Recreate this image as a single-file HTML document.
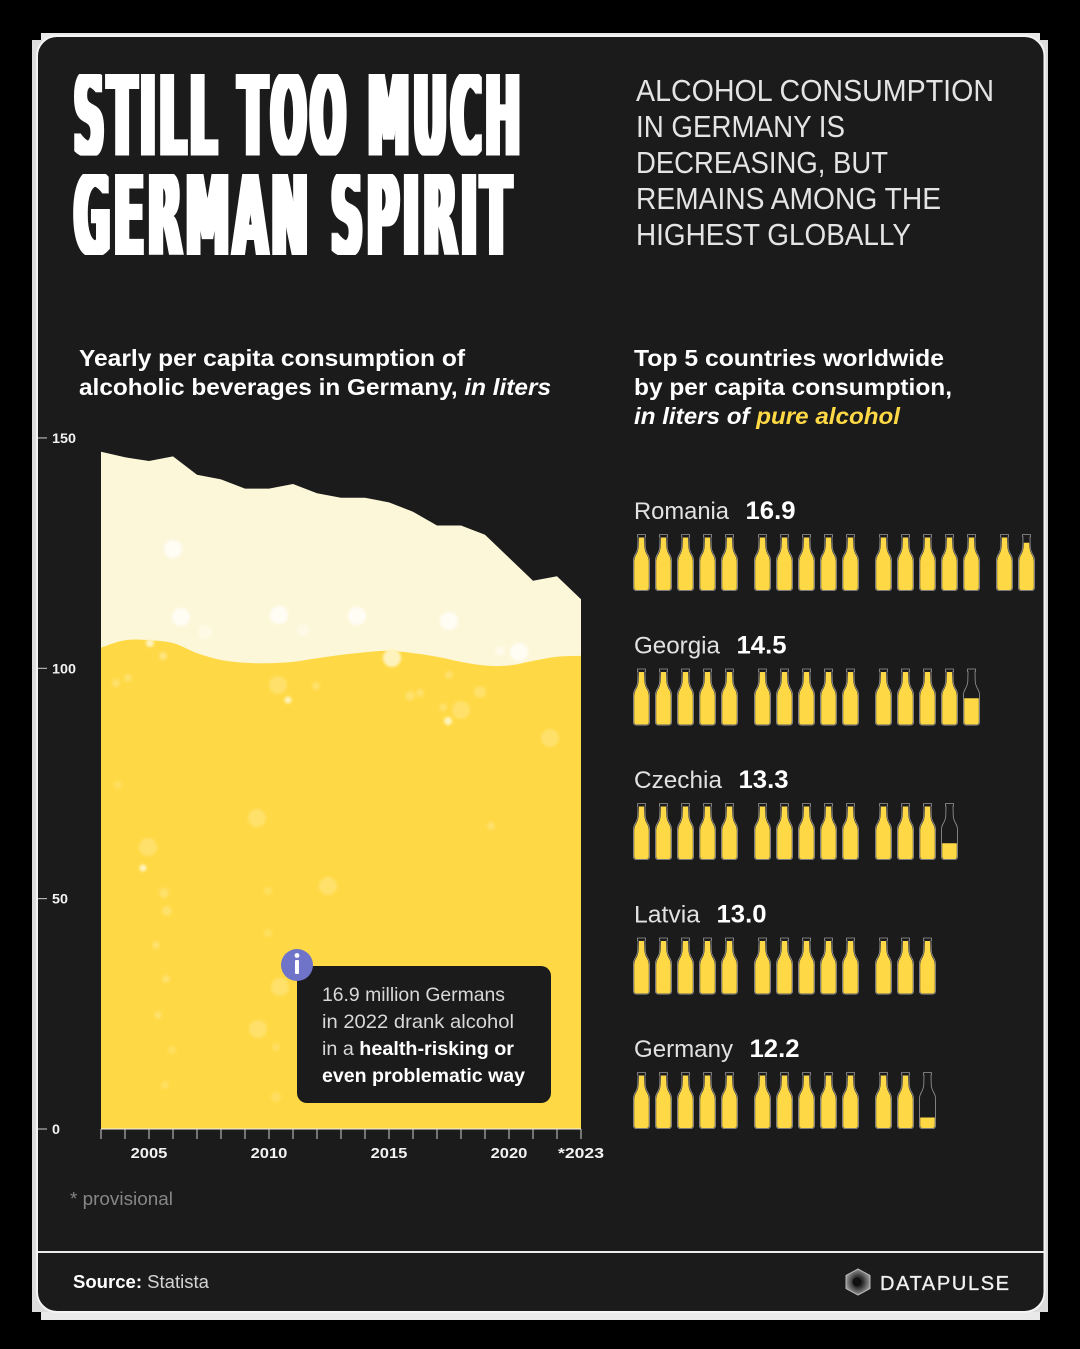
<!DOCTYPE html>
<html lang="en">
<head>
<meta charset="utf-8">
<title>Still Too Much German Spirit</title>
<style>
html,body{margin:0;padding:0;background:#000;}
svg{display:block;}
text{font-family:"Liberation Sans",sans-serif;}
.title{font-family:"DejaVu Sans","Liberation Sans",sans-serif;font-size:113px;font-weight:700;fill:#fff;letter-spacing:10px;filter:url(#fatten);}
.sub{font-size:31px;fill:#e4e4e4;}
.head{font-size:23px;font-weight:700;fill:#fff;}
.tip{font-size:19.5px;fill:#d8d8d8;}
.b{font-weight:700;fill:#fff;}
</style>
</head>
<body>
<svg id="root" xmlns="http://www.w3.org/2000/svg" width="1080" height="1349" viewBox="0 0 1080 1349">
  <defs>
    <filter id="soft" x="-50%" y="-50%" width="200%" height="200%"><feGaussianBlur stdDeviation="1.2"/></filter>
    <filter id="fatten" x="-5%" y="-10%" width="110%" height="120%"><feMorphology operator="dilate" radius="3.2 0"/></filter>
    <clipPath id="chart-clip"><rect x="101" y="430" width="480" height="699"/></clipPath>
    <clipPath id="title-clip-1"><rect x="60" y="74" width="480" height="81.6"/></clipPath>
    <clipPath id="title-clip-2"><rect x="60" y="174" width="480" height="81"/></clipPath>
    <radialGradient id="logo-fill" cx="50%" cy="50%" r="55%"><stop offset="35%" stop-color="#2a2a2a"/><stop offset="75%" stop-color="#777"/><stop offset="100%" stop-color="#aaa"/></radialGradient>
  </defs>
  <rect x="0" y="0" width="1080" height="1349" fill="#000"/>
  <rect x="41" y="33" width="999" height="1287" fill="#e9e9e9"/>
  <rect x="32" y="40" width="1016" height="1272" fill="#dcdcdc"/>
  <rect x="37" y="36" width="1007.5" height="1276" rx="20" fill="#1b1b1b" stroke="#f4f4f4" stroke-width="2"/>

  <g clip-path="url(#title-clip-1)">
    <text class="title" x="74" y="155.5" textLength="450" lengthAdjust="spacingAndGlyphs">STILL TOO MUCH</text>
  </g>
  <g clip-path="url(#title-clip-2)">
    <text class="title" x="74" y="255" textLength="441" lengthAdjust="spacingAndGlyphs">GERMAN SPIRIT</text>
  </g>

  <g>
    <text class="sub" x="636" y="101" textLength="358" lengthAdjust="spacingAndGlyphs">ALCOHOL CONSUMPTION</text>
    <text class="sub" x="636" y="137" textLength="209" lengthAdjust="spacingAndGlyphs">IN GERMANY IS</text>
    <text class="sub" x="636" y="173" textLength="252" lengthAdjust="spacingAndGlyphs">DECREASING, BUT</text>
    <text class="sub" x="636" y="209" textLength="305" lengthAdjust="spacingAndGlyphs">REMAINS AMONG THE</text>
    <text class="sub" x="636" y="245" textLength="275" lengthAdjust="spacingAndGlyphs">HIGHEST GLOBALLY</text>
  </g>

  <g>
    <text class="head" x="79" y="366" textLength="386" lengthAdjust="spacingAndGlyphs">Yearly per capita consumption of</text>
    <text class="head" x="79" y="395" textLength="472" lengthAdjust="spacingAndGlyphs">alcoholic beverages in Germany, <tspan font-style="italic">in liters</tspan></text>
  </g>
  <g>
    <text class="head" x="634" y="366" textLength="310" lengthAdjust="spacingAndGlyphs">Top 5 countries worldwide</text>
    <text class="head" x="634" y="395" textLength="318" lengthAdjust="spacingAndGlyphs">by per capita consumption,</text>
    <text class="head" x="634" y="424" textLength="266" lengthAdjust="spacingAndGlyphs" font-style="italic">in liters of <tspan fill="#ffd945">pure alcohol</tspan></text>
  </g>

  <g id="area-chart"></g>

  <g id="bubbles" clip-path="url(#chart-clip)" filter="url(#soft)">
    <circle cx="173" cy="549" r="9" fill="#fff" opacity=".7"/>
    <circle cx="181" cy="617" r="9" fill="#fff" opacity=".7"/>
    <circle cx="279" cy="615" r="9" fill="#fff" opacity=".7"/>
    <circle cx="357" cy="616" r="9" fill="#fff" opacity=".7"/>
    <circle cx="449" cy="621" r="9" fill="#fff" opacity=".7"/>
    <circle cx="519" cy="652" r="9" fill="#fff" opacity=".7"/>
    <circle cx="392" cy="658" r="9" fill="#fff3bd"/>
    <circle cx="205" cy="632" r="7" fill="#fff" opacity=".3"/>
    <circle cx="303" cy="630" r="6" fill="#fff" opacity=".3"/>
    <circle cx="500" cy="651" r="5" fill="#fff" opacity=".4"/>
    <circle cx="150" cy="643" r="4" fill="#fff3bd"/>
    <circle cx="116" cy="683" r="4" fill="#fff" opacity=".2"/>
    <circle cx="128" cy="678" r="4" fill="#fff" opacity=".2"/>
    <circle cx="163" cy="656" r="4" fill="#fff" opacity=".3"/>
    <circle cx="278" cy="685" r="9" fill="#fff" opacity=".2"/>
    <circle cx="288" cy="700" r="3.5" fill="#fff3bd"/>
    <circle cx="316" cy="686" r="4" fill="#fff" opacity=".2"/>
    <circle cx="448" cy="721" r="4" fill="#fff3bd"/>
    <circle cx="461" cy="710" r="9" fill="#fff" opacity=".2"/>
    <circle cx="550" cy="738" r="9" fill="#fff" opacity=".2"/>
    <circle cx="148" cy="847" r="9" fill="#fff" opacity=".2"/>
    <circle cx="143" cy="868" r="3.5" fill="#fff3bd"/>
    <circle cx="257" cy="818" r="9" fill="#fff" opacity=".2"/>
    <circle cx="328" cy="886" r="9" fill="#fff" opacity=".2"/>
    <circle cx="268" cy="891" r="4" fill="#fff" opacity=".15"/>
    <circle cx="164" cy="893" r="5" fill="#fff" opacity=".2"/>
    <circle cx="167" cy="911" r="5" fill="#fff" opacity=".2"/>
    <circle cx="156" cy="945" r="4" fill="#fff" opacity=".2"/>
    <circle cx="268" cy="933" r="4" fill="#fff" opacity=".15"/>
    <circle cx="166" cy="979" r="4" fill="#fff" opacity=".2"/>
    <circle cx="280" cy="987" r="9" fill="#fff" opacity=".2"/>
    <circle cx="258" cy="1029" r="9" fill="#fff" opacity=".2"/>
    <circle cx="158" cy="1015" r="4" fill="#fff" opacity=".2"/>
    <circle cx="172" cy="1050" r="4" fill="#fff" opacity=".15"/>
    <circle cx="165" cy="1085" r="4" fill="#fff" opacity=".15"/>
    <circle cx="276" cy="1047" r="4" fill="#fff" opacity=".15"/>
    <circle cx="276" cy="1097" r="5" fill="#fff" opacity=".15"/>
    <circle cx="491" cy="826" r="4" fill="#fff" opacity=".2"/>
    <circle cx="118" cy="785" r="4" fill="#fff" opacity=".15"/>
    <circle cx="410" cy="696" r="5" fill="#fff" opacity=".2"/>
    <circle cx="420" cy="693" r="4" fill="#fff" opacity=".2"/>
    <circle cx="480" cy="692" r="6" fill="#fff" opacity=".2"/>
    <circle cx="443" cy="707" r="4" fill="#fff" opacity=".2"/>
    <circle cx="449" cy="675" r="4" fill="#fff" opacity=".2"/>
  </g>

  <g>
    <rect x="297" y="966" width="254" height="137" rx="10" fill="#1b1b1b"/>
    <circle cx="297" cy="965" r="16" fill="#6f74c9"/>
    <rect x="295" y="960" width="4" height="14" rx="1" fill="#fff"/>
    <circle cx="297" cy="955.5" r="2.4" fill="#fff"/>
    <text class="tip" x="322" y="1001" textLength="183" lengthAdjust="spacingAndGlyphs">16.9 million Germans</text>
    <text class="tip" x="322" y="1028" textLength="192" lengthAdjust="spacingAndGlyphs">in 2022 drank alcohol</text>
    <text class="tip" x="322" y="1055" textLength="192" lengthAdjust="spacingAndGlyphs">in a <tspan class="b">health-risking or</tspan></text>
    <text class="tip b" x="322" y="1082" textLength="203" lengthAdjust="spacingAndGlyphs">even problematic way</text>
  </g>

  <g id="bottle-chart"></g>

  <text x="70" y="1205" font-size="18" fill="#868686" textLength="103" lengthAdjust="spacingAndGlyphs">* provisional</text>
  <rect x="38" y="1251" width="1006" height="2" fill="#ececec"/>
  <text x="73" y="1288" font-size="18" fill="#d4d4d4" textLength="136" lengthAdjust="spacingAndGlyphs"><tspan class="b">Source:</tspan> Statista</text>

  <g>
    <polygon points="858,1269 870,1275.5 870,1288.5 858,1295 846,1288.5 846,1275.5" fill="url(#logo-fill)" stroke="#b5b5b5" stroke-width="1" stroke-linejoin="round"/>
    <circle cx="857" cy="1282" r="4.5" fill="#111"/>
    <text x="880" y="1290" font-size="20" font-weight="400" fill="#f0f0f0" stroke="#f0f0f0" stroke-width=".35" textLength="129" lengthAdjust="spacing">DATAPULSE</text>
  </g>
</svg>

<script>
var years = [2003,2004,2005,2006,2007,2008,2009,2010,2011,2012,2013,2014,2015,2016,2017,2018,2019,2020,2021,2022,2023];
var totalLiters = [147,145.8,145,146,142,141,139,139,140,138,137,137,136,134,131,131,129,124,119,120,115];
var beerLevel = [104.5,106.1,106.1,105.5,103.3,101.8,101.2,101.1,101.4,102.2,102.9,103.5,103.8,103.3,102.5,101.4,100.6,100.6,101.6,102.5,102.7];
var yTickValues = [150,100,50,0];
var xLabelYears = [2005,2010,2015,2020,2023];
var xLabelText = ['2005','2010','2015','2020','*2023'];

var countries = ['Romania','Georgia','Czechia','Latvia','Germany'];
var litersPure = [16.9,14.5,13.3,13.0,12.2];

var NS = 'http://www.w3.org/2000/svg';
function make(parent, tag, attrs, text) {
  var el = document.createElementNS(NS, tag);
  for (var k in attrs) el.setAttribute(k, attrs[k]);
  if (text !== undefined) el.textContent = text;
  parent.appendChild(el);
  return el;
}
function xScale(year) { return 101 + (year - 2003) * 24; }
function yScale(v) { return 1129 - v * 4.607; }

var chart = document.getElementById('area-chart');
var baseY = yScale(0);

var foamPath = 'M' + xScale(years[0]) + ' ' + baseY;
years.forEach(function (yr, i) { foamPath += ' L' + xScale(yr) + ' ' + yScale(totalLiters[i]).toFixed(1); });
foamPath += ' L' + xScale(years[years.length - 1]) + ' ' + baseY + ' Z';
var foam = make(chart, 'path', { d: foamPath, fill: '#fdf7da' });



var pts = years.map(function (yr, i) { return [xScale(yr), yScale(beerLevel[i])]; });
var wavePath = 'M' + pts[0][0] + ' ' + baseY + ' L' + pts[0][0] + ' ' + pts[0][1].toFixed(1);
for (var i = 0; i < pts.length - 1; i++) {
  var p0 = pts[Math.max(i - 1, 0)], p1 = pts[i], p2 = pts[i + 1], p3 = pts[Math.min(i + 2, pts.length - 1)];
  wavePath += ' C' + (p1[0] + (p2[0] - p0[0]) / 6).toFixed(1) + ' ' + (p1[1] + (p2[1] - p0[1]) / 6).toFixed(1) + ' ' +
    (p2[0] - (p3[0] - p1[0]) / 6).toFixed(1) + ' ' + (p2[1] - (p3[1] - p1[1]) / 6).toFixed(1) + ' ' + p2[0] + ' ' + p2[1].toFixed(1);
}
wavePath += ' L' + pts[pts.length - 1][0] + ' ' + baseY + ' Z';
var beer = make(chart, 'path', { d: wavePath, fill: '#ffd945' });



var xAxisLine = make(chart, 'line', { x1: xScale(years[0]), x2: xScale(years[years.length - 1]), y1: baseY, y2: baseY, stroke: '#f2f2f2', 'stroke-width': 1 });



years.forEach(function (yr) {
  var t = make(chart, 'line', { x1: xScale(yr), x2: xScale(yr), y1: baseY, y2: baseY + 10, stroke: '#cfcfcf', 'stroke-width': 1 });
  
  
});
xLabelYears.forEach(function (yr, i) {
  var lb = make(chart, 'text', { x: xScale(yr), y: 1158, 'text-anchor': 'middle', 'font-size': 14.5, 'font-weight': 700, fill: '#f2f2f2', textLength: xLabelText[i].length * 9.2, lengthAdjust: 'spacingAndGlyphs' }, xLabelText[i]);
  
  
});
yTickValues.forEach(function (v) {
  var t = make(chart, 'line', { x1: 38, x2: 47, y1: yScale(v), y2: yScale(v), stroke: '#cfcfcf', 'stroke-width': 1 });
  
  
  var label = String(v);
  var lb = make(chart, 'text', { x: 52, y: yScale(v) + 5, 'font-size': 14, 'font-weight': 700, fill: '#f2f2f2', textLength: label.length * 8, lengthAdjust: 'spacingAndGlyphs' }, label);
  
  
});

/* bottle pictogram */
var bottleOutline = 'M4.6 0.5 H12.4 V3 H12 L12.2 13 Q12.6 17 15 21 Q16.5 23.5 16.5 27 V53.5 Q16.5 56.6 13.5 56.6 H3.5 Q0.5 56.6 0.5 53.5 V27 Q0.5 23.5 2 21 Q4.4 17 4.8 13 L5 3 H4.6 Z';
var bottleInner = 'M6 3.5 H11 L11.4 13 Q11.8 17.5 14.3 21.5 Q15.8 24 15.8 27 V53.5 Q15.8 56 13.2 56 H3.8 Q1.2 56 1.2 53.5 V27 Q1.2 24 2.7 21.5 Q5.2 17.5 5.6 13 Z';
var bottleChart = document.getElementById('bottle-chart');
var clipDefs = document.querySelector('defs');
var rowTop = function (r) { return 534 + r * 134.5; };
var bottleX = function (n) { return 633 + Math.floor(n / 5) * 121 + (n % 5) * 22; };
var nameWidths = [95, 86, 88, 66, 99];

countries.forEach(function (name, r) {
  var value = litersPure[r];
  var row = make(bottleChart, 'g', {});
  
  
  var baseline = rowTop(r) - 15;
  var nameEl = make(row, 'text', { x: 634, y: baseline, 'font-size': 24, fill: '#e2e2e2', textLength: nameWidths[r], lengthAdjust: 'spacingAndGlyphs' }, name);
  
  
  var valEl = make(row, 'text', { x: 634 + nameWidths[r] + 16.5, y: baseline, 'font-size': 25, 'font-weight': 700, fill: '#fff', textLength: 50, lengthAdjust: 'spacingAndGlyphs' }, value.toFixed(1));
  
  
  var count = Math.ceil(value);
  for (var n = 0; n < count; n++) {
    var frac = Math.min(1, value - n);
    var g = make(row, 'g', { transform: 'translate(' + bottleX(n) + ' ' + rowTop(r) + ')' });
    
    
    var id = 'fill-' + r + '-' + n;
    var cp = make(clipDefs, 'clipPath', { id: id });
    make(cp, 'rect', { x: 0, y: 56 - frac * 52.5, width: 17, height: frac * 52.5 });
    var outline = make(g, 'path', { d: bottleOutline, fill: 'none', stroke: '#9a9a9a', 'stroke-width': 0.8 });
    
    
    var liquid = make(g, 'path', { d: bottleInner, fill: '#ffd945', 'clip-path': 'url(#' + id + ')' });
    
    
  }
});
</script>
</body>
</html>
